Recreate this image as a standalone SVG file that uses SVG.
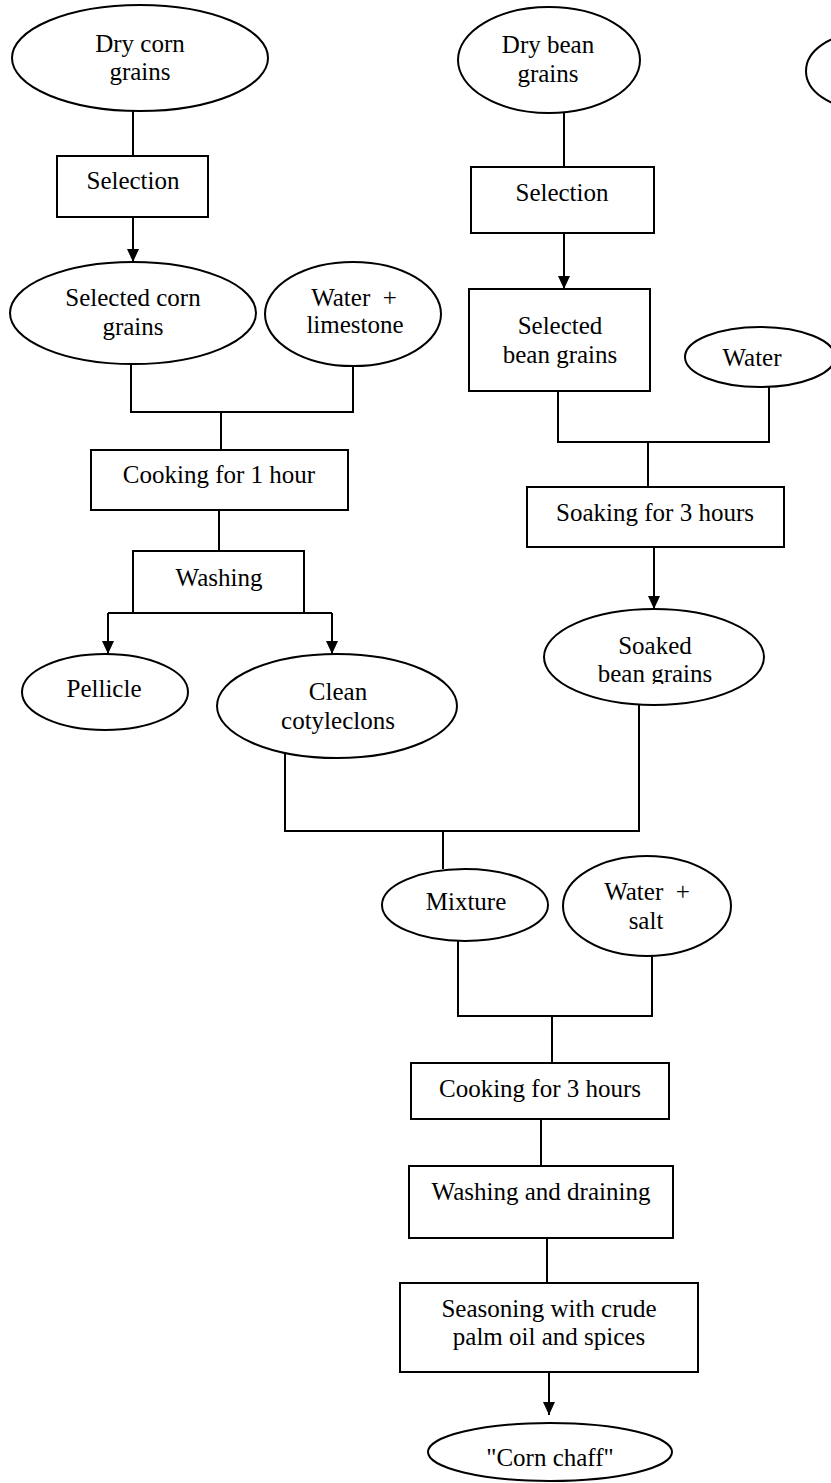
<svg xmlns="http://www.w3.org/2000/svg" width="831" height="1483" viewBox="0 0 831 1483">
<style>
.n{fill:#fff;stroke:#000;stroke-width:2}
.t{font-family:"Liberation Serif","Times New Roman",serif;font-size:25px;fill:#000;text-anchor:middle}
.c{fill:none;stroke:#000;stroke-width:2}
</style>
<defs>
<marker id="ah" markerUnits="userSpaceOnUse" markerWidth="13" markerHeight="12" viewBox="0 0 13 12" refX="13" refY="6" orient="auto">
<path d="M0,0 L13,6 L0,12 z" fill="#000"/>
</marker>
<clipPath id="soakClip"><rect x="540" y="600" width="230" height="84"/></clipPath>
</defs>
<rect width="831" height="1483" fill="#fff"/>
<g id="connectors">
<line class="c" x1="133" y1="111" x2="133" y2="156"/>
<line class="c" x1="133" y1="217" x2="133" y2="262" marker-end="url(#ah)"/>
<polyline class="c" points="131,364 131,412 353,412 353,366"/>
<line class="c" x1="221" y1="412" x2="221" y2="450"/>
<line class="c" x1="219" y1="510" x2="219" y2="551"/>
<line class="c" x1="108" y1="613" x2="332" y2="613"/>
<line class="c" x1="108" y1="613" x2="108" y2="654" marker-end="url(#ah)"/>
<line class="c" x1="332" y1="613" x2="332" y2="654" marker-end="url(#ah)"/>
<line class="c" x1="564" y1="113" x2="564" y2="167"/>
<line class="c" x1="564" y1="233" x2="564" y2="289" marker-end="url(#ah)"/>
<polyline class="c" points="558,391 558,442 769,442 769,386"/>
<line class="c" x1="648" y1="442" x2="648" y2="487"/>
<line class="c" x1="654" y1="547" x2="654" y2="609" marker-end="url(#ah)"/>
<polyline class="c" points="285,754 285,831 639,831 639,699"/>
<line class="c" x1="443" y1="831" x2="443" y2="869"/>
<polyline class="c" points="458,941 458,1016 652,1016 652,956"/>
<line class="c" x1="552" y1="1016" x2="552" y2="1063"/>
<line class="c" x1="541" y1="1119" x2="541" y2="1166"/>
<line class="c" x1="547" y1="1238" x2="547" y2="1283"/>
<line class="c" x1="549" y1="1370" x2="549" y2="1415" marker-end="url(#ah)"/>
</g>
<g id="dry-corn"><ellipse class="n" cx="140" cy="58" rx="128" ry="53"/><text class="t" x="140" y="52">Dry corn</text><text class="t" x="140" y="80">grains</text></g>
<g id="selection-corn"><rect class="n" x="57" y="156" width="151" height="61"/><text class="t" x="133" y="189">Selection</text></g>
<g id="selected-corn"><ellipse class="n" cx="133" cy="313" rx="123" ry="51"/><text class="t" x="133" y="306">Selected corn</text><text class="t" x="133" y="335">grains</text></g>
<g id="water-limestone"><ellipse class="n" cx="353" cy="314" rx="88" ry="52"/><text class="t" x="354" y="306">Water&#160;&#160;+</text><text class="t" x="355" y="333">limestone</text></g>
<g id="cooking-1h"><rect class="n" x="91" y="450" width="257" height="60"/><text class="t" x="219" y="483">Cooking for 1 hour</text></g>
<g id="washing"><rect class="n" x="133" y="551" width="171" height="62"/><text class="t" x="219" y="586">Washing</text></g>
<g id="pellicle"><ellipse class="n" cx="105" cy="692" rx="83" ry="38"/><text class="t" x="104" y="697">Pellicle</text></g>
<g id="clean-cotyledons"><ellipse class="n" cx="337" cy="706" rx="120" ry="52"/><text class="t" x="338" y="700">Clean</text><text class="t" x="338" y="729">cotyleclons</text></g>
<g id="dry-bean"><ellipse class="n" cx="549" cy="60" rx="91" ry="53"/><text class="t" x="548" y="53">Dry bean</text><text class="t" x="548" y="82">grains</text></g>
<g id="partial-right"><ellipse class="n" cx="860" cy="71" rx="54" ry="37"/></g>
<g id="selection-bean"><rect class="n" x="471" y="167" width="183" height="66"/><text class="t" x="562" y="201">Selection</text></g>
<g id="selected-bean"><rect class="n" x="469" y="289" width="181" height="102"/><text class="t" x="560" y="334">Selected</text><text class="t" x="560" y="363">bean grains</text></g>
<g id="water"><ellipse class="n" cx="760" cy="357" rx="75" ry="30"/><text class="t" x="752" y="366">Water</text></g>
<g id="soaking"><rect class="n" x="527" y="487" width="257" height="60"/><text class="t" x="655" y="521">Soaking for 3 hours</text></g>
<g id="soaked-bean"><ellipse class="n" cx="654" cy="657" rx="110" ry="48"/><text class="t" x="655" y="654">Soaked</text><text class="t" x="655" y="682" clip-path="url(#soakClip)">bean grains</text></g>
<g id="mixture"><ellipse class="n" cx="465" cy="905" rx="83" ry="36"/><text class="t" x="466" y="910">Mixture</text></g>
<g id="water-salt"><ellipse class="n" cx="647" cy="906" rx="84" ry="50"/><text class="t" x="647" y="900">Water&#160;&#160;+</text><text class="t" x="646" y="929">salt</text></g>
<g id="cooking-3h"><rect class="n" x="411" y="1063" width="258" height="56"/><text class="t" x="540" y="1097">Cooking for 3 hours</text></g>
<g id="washing-draining"><rect class="n" x="409" y="1166" width="264" height="72"/><text class="t" x="541" y="1200">Washing and draining</text></g>
<g id="seasoning"><rect class="n" x="400" y="1283" width="298" height="89"/><text class="t" x="549" y="1317">Seasoning with crude</text><text class="t" x="549" y="1345">palm oil and spices</text></g>
<g id="corn-chaff"><ellipse class="n" cx="550" cy="1452" rx="122" ry="29"/><text class="t" x="550" y="1466">"Corn chaff"</text></g>
</svg>
